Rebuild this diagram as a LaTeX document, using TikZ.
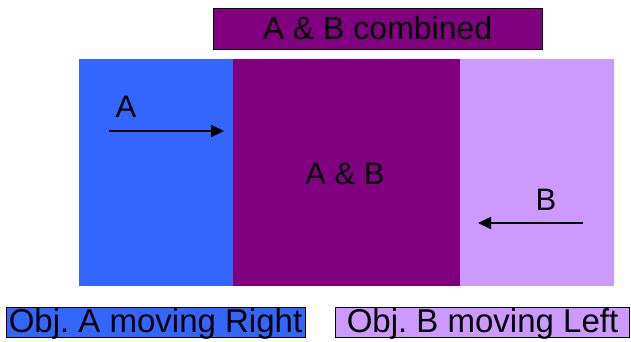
\documentclass[tikz,border=0pt]{standalone}
\usepackage{fontspec}
\setmainfont{Liberation Sans}
\usetikzlibrary{arrows.meta}
\frenchspacing
\definecolor{objblue}{HTML}{3366FF}
\definecolor{objpurple}{HTML}{800080}
\definecolor{objlilac}{HTML}{CC99FF}
\tikzset{
  band/.style={draw=none, inner sep=0pt, outer sep=0pt, anchor=north west},
  labelbox/.style={draw=black, line width=0.9pt, inner sep=0pt, outer sep=0pt, anchor=north west,
    font=\fontsize{32}{32}\selectfont},
  legendbox/.style={labelbox, font=\fontsize{33}{33}\selectfont, text depth=5pt, text height=25pt},
  bigtext/.style={inner sep=0pt, font=\fontsize{31}{31}\selectfont},
  motion/.style={line width=2pt, -{Triangle[length=13pt,width=12pt]}}
}
\begin{document}
\begin{tikzpicture}[x=1pt,y=-1pt]
\useasboundingbox (0,0) rectangle (631,342);
% bands
\node[band, fill=objblue, minimum width=154pt, minimum height=227pt] (bandA) at (79,59) {};
\node[band, fill=objpurple, minimum width=227pt, minimum height=227pt] (bandAB) at (233,59) {};
\node[band, fill=objlilac, minimum width=154pt, minimum height=227pt] (bandB) at (460,59) {};
% title
\node[labelbox, fill=objpurple, minimum width=329pt, minimum height=41pt] (title) at (213,8) {A \& B combined};
% labels in bands
\node[bigtext] (labA) at (126,107) {A};
\node[bigtext] (labAB) at (345,174) {A \& B};
\node[bigtext] (labB) at (546,200) {B};
% arrows
\coordinate (a1) at (109,131);
\coordinate (a2) at (224,131);
\draw[motion] (a1) -- (a2);
\coordinate (b1) at (583,223);
\coordinate (b2) at (478,223);
\draw[motion] (b1) -- (b2);
% legend
\node[legendbox, fill=objblue, minimum width=299pt, minimum height=30pt] (legA) at (6,307) {Obj. A moving Right};
\node[legendbox, fill=objlilac, minimum width=294pt, minimum height=30pt] (legB) at (335.5,307) {Obj. B moving Left};
\end{tikzpicture}
\end{document}
